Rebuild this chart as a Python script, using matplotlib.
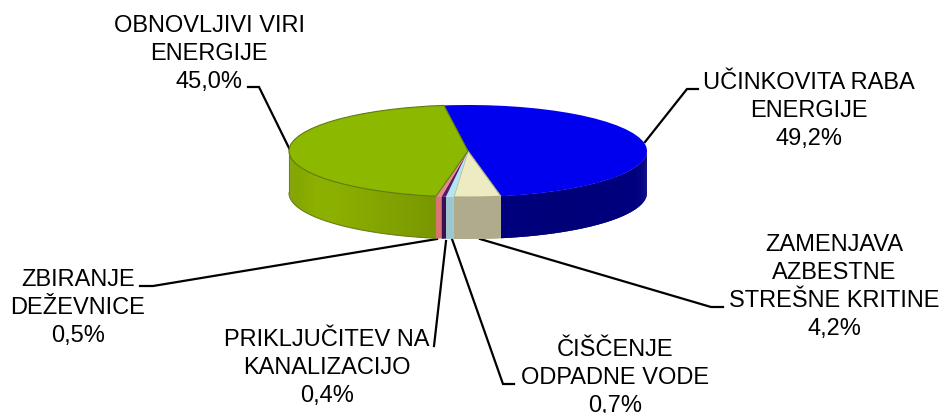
import numpy as np
import matplotlib
matplotlib.use("Agg")
import matplotlib.pyplot as plt
from matplotlib.colors import to_rgb

plt.rcParams['font.family'] = ['Liberation Sans', 'DejaVu Sans']

# podatki
labels = ["UČINKOVITA RABA\nENERGIJE\n49,2%",
          "ZAMENJAVA\nAZBESTNE\nSTREŠNE KRITINE\n4,2%",
          "ČIŠČENJE\nODPADNE VODE\n0,7%",
          "PRIKLJUČITEV NA\nKANALIZACIJO\n0,4%",
          "ZBIRANJE\nDEŽEVNICE\n0,5%",
          "OBNOVLJIVI VIRI\nENERGIJE\n45,0%"]
values = [49.2, 4.2, 0.7, 0.4, 0.5, 45.0]
top_colors = ["#0000ee", "#ecebc2", "#b4e6f2", "#5a1a6a", "#e58a8a", "#8cb800"]
side_colors = ["#00008c", "#aeac8c", "#9cc6d0", "#3c1050", "#d87474", "#8cb000"]

label_pos = [(809, 111), (834, 287), (615, 378), (327, 368), (78, 308), (209, 54)]
leaders = [[(698, 90), (687, 90), (645, 143)],
           [(723, 308), (711, 308), (480, 240)],
           [(514, 385), (503, 385), (452, 240)],
           [(434, 347), (446, 242)],
           [(140, 287), (153, 287), (437, 240)],
           [(248, 88), (259, 88), (290, 151)]]

W, H = 944, 414
fig = plt.figure(figsize=(W / 100, H / 100), dpi=100)

# okvir za tekst in crte, v pikslih
ax = fig.add_axes([0, 0, 1, 1])
ax.set_xlim(0, W)
ax.set_ylim(H, 0)
ax.axis("off")

# elipsa torte
pie_ax = fig.add_axes([289 / W, 1 - 198 / H, 358 / W, 92 / H])
start = 97.7
depth = 42 / 46
wedges, _ = pie_ax.pie(values, colors=top_colors, startangle=start, counterclock=False,
                       radius=1, wedgeprops=dict(linewidth=0.8, edgecolor="none"))
for w in wedges:
    w.set_zorder(5)
wedges[5].set_edgecolor("#5f7a10")
wedges[1].set_edgecolor("#b0ae80")
pie_ax.set_aspect("auto")
pie_ax.set_xlim(-1, 1)
pie_ax.set_ylim(-1, 1)
pie_ax.axis("off")

# stranica torte, samo spodnja polovica
a = start
for val, col in zip(values, side_colors):
    b = a - val * 3.6
    lo = max(b, -180)
    ang = np.append(np.arange(min(a, 0), lo, -0.5), lo)
    for i in range(len(ang) - 1):
        t0, t1 = np.radians(ang[i]), np.radians(max(ang[i + 1] - 0.6, lo))
        mid = np.radians((ang[i] + ang[i + 1]) / 2)
        # senca: temneje pri sredini desno, svetleje na robu
        f = 1.0
        if col == "#8cb000":
            f = 1 - 0.15 * np.clip((np.cos(mid) + 0.75) / 0.6, 0, 1) - 0.08 * np.clip((-np.cos(mid) - 0.85) / 0.15, 0, 1)
        elif col == "#00008c":
            f = 0.85 + 0.15 * abs(np.cos(mid) - 0.55)
        c = tuple(np.clip(np.array(to_rgb(col)) * f, 0, 1))
        pie_ax.fill([np.cos(t0), np.cos(t1), np.cos(t1), np.cos(t0)],
                    [np.sin(t0), np.sin(t1), np.sin(t1) - depth, np.sin(t0) - depth],
                    facecolor=c, lw=0, clip_on=False, zorder=2)
    a = b

# spodnji rob stranice zelenega dela
ang = np.radians(np.linspace(-180, -100.2, 80))
pie_ax.plot(np.cos(ang), np.sin(ang) - depth, color="#6d7f20", lw=0.8, clip_on=False, zorder=3)
pie_ax.plot([-1, -1], [0, -depth], color="#6d7f20", lw=0.8, clip_on=False, zorder=3)

# oznake in povezave
for lab, (x, y), line in zip(labels, label_pos, leaders):
    ax.text(x, y, lab, ha="center", va="center", fontsize=17, color="black", linespacing=1.35)
    ax.plot([p[0] for p in line], [p[1] for p in line], color="black", lw=1.6,
            solid_joinstyle="miter", zorder=6)

fig.savefig("out.png", dpi=100)
